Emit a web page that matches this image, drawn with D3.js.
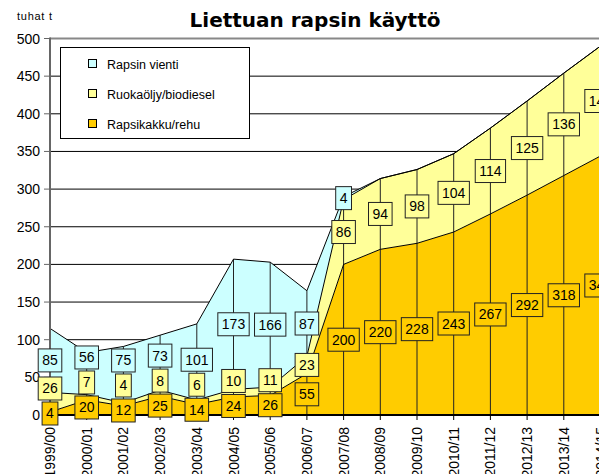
<!DOCTYPE html>
<html>
<head>
<meta charset="utf-8">
<script src="https://cdn.jsdelivr.net/npm/d3@7"></script>
<style>
  body { margin: 0; background: #fff; }
  svg { display: block; font-family: "Liberation Sans", Arial, sans-serif; }
</style>
</head>
<body>
<div id="chart"></div>
<script>
// seasons on the x axis
const seasons = ["1999/00", "2000/01", "2001/02", "2002/03", "2003/04", "2004/05",
    "2005/06", "2006/07", "2007/08", "2008/09", "2009/10", "2010/11",
    "2011/12", "2012/13", "2013/14", "2014/15"];

// thousand tonnes
const rehu   = [4, 20, 12, 25, 14, 24, 26, 55, 200, 220, 228, 243, 267, 292, 318, 344];
const oljy   = [26, 7, 4, 8, 6, 10, 11, 23, 86, 94, 98, 104, 114, 125, 136, 146];
const vienti = [85, 56, 75, 73, 101, 173, 166, 87, 4, 0, 0, 0, 0, 0, 0, 0];

const yTicks = [0, 50, 100, 150, 200, 250, 300, 350, 400, 450, 500];

const seriesNames = {
    vienti: "Rapsin vienti",
    oljy: "Ruokaöljy/biodiesel",
    rehu: "Rapsikakku/rehu"
};
const colors = { rehu: "#ffcc00", oljy: "#ffff99", vienti: "#ccffff" };

const W = 599, H = 474;
const plot = { left: 50, right: 600.5, top: 38.5, bottom: 415 };

let rows = seasons.map((s, i) => ({ season: s, rehu: rehu[i], oljy: oljy[i], vienti: vienti[i] }));
let keys = ["rehu", "oljy", "vienti"];
let stacked = d3.stack().keys(keys)(rows);

let x = d3.scalePoint().domain(seasons).range([plot.left, plot.right]);
let y = d3.scaleLinear().domain([0, 500]).range([plot.bottom, plot.top]);

let svg = d3.select("#chart").append("svg")
    .attr("width", W).attr("height", H);

// title and unit
svg.append("text")
    .attr("x", 315).attr("y", 27)
    .attr("text-anchor", "middle")
    .attr("font-family", "'DejaVu Sans', sans-serif")
    .attr("font-weight", "bold")
    .attr("font-size", 20)
    .text("Liettuan rapsin käyttö");

svg.append("text")
    .attr("x", 17).attr("y", 20)
    .attr("font-size", 11)
    .attr("textLength", 35)
    .text("tuhat t");

// gridlines
svg.append("g").selectAll("line")
    .data(yTicks.filter(d => d > 0 && d < 500))
    .enter().append("line")
    .attr("x1", plot.left).attr("x2", plot.right)
    .attr("y1", d => y(d)).attr("y2", d => y(d))
    .attr("stroke", "#000").attr("stroke-width", 1);

svg.append("line")
    .attr("x1", plot.left).attr("x2", plot.right)
    .attr("y1", y(500)).attr("y2", y(500))
    .attr("stroke", "#888").attr("stroke-width", 2);

// legend
let legend = svg.append("g");
legend.append("rect")
    .attr("x", 60.5).attr("y", 47.5).attr("width", 189).attr("height", 91)
    .attr("fill", "#fff").attr("stroke", "#000");

["vienti", "oljy", "rehu"].forEach((k, i) => {
    let ly = 64 + i * 30;
    legend.append("rect")
        .attr("x", 88.5).attr("y", ly - 4.5).attr("width", 8).attr("height", 8)
        .attr("fill", colors[k]).attr("stroke", "#000");
    legend.append("text")
        .attr("x", 107).attr("y", ly + 4.5)
        .attr("font-size", 12.5)
        .text(seriesNames[k]);
});

// areas
let area = d3.area()
    .x(d => x(d.data.season))
    .y0(d => y(d[0]))
    .y1(d => y(d[1]));

let line = d3.line()
    .x(d => x(d.data.season))
    .y(d => y(d[1]));

svg.append("g").selectAll("path")
    .data(stacked)
    .enter().append("path")
    .attr("d", area)
    .attr("fill", d => colors[d.key]);

// drop lines
svg.append("g").selectAll("line")
    .data(rows)
    .enter().append("line")
    .attr("x1", d => x(d.season)).attr("x2", d => x(d.season))
    .attr("y1", d => y(d.rehu + d.oljy + d.vienti)).attr("y2", plot.bottom)
    .attr("stroke", "#222").attr("stroke-width", 1);

svg.append("g").selectAll("path")
    .data(stacked)
    .enter().append("path")
    .attr("d", line)
    .attr("fill", "none")
    .attr("stroke", "#000").attr("stroke-width", 1);

// axes
svg.append("line")
    .attr("x1", plot.left).attr("x2", plot.left)
    .attr("y1", plot.top - 1).attr("y2", plot.bottom + 1)
    .attr("stroke", "#666").attr("stroke-width", 2);

let yAxis = svg.append("g");
yAxis.selectAll("line")
    .data(yTicks)
    .enter().append("line")
    .attr("x1", plot.left - 6).attr("x2", plot.left)
    .attr("y1", d => y(d)).attr("y2", d => y(d))
    .attr("stroke", "#666").attr("stroke-width", 1);
yAxis.selectAll("text")
    .data(yTicks)
    .enter().append("text")
    .attr("x", plot.left - 10).attr("y", d => y(d) + 5)
    .attr("text-anchor", "end")
    .attr("font-size", 14)
    .text(d => d);

svg.append("line")
    .attr("x1", plot.left - 1).attr("x2", plot.right)
    .attr("y1", plot.bottom).attr("y2", plot.bottom)
    .attr("stroke", "#000").attr("stroke-width", 2);

let xAxis = svg.append("g");
xAxis.selectAll("line")
    .data(seasons)
    .enter().append("line")
    .attr("x1", d => x(d)).attr("x2", d => x(d))
    .attr("y1", plot.bottom).attr("y2", plot.bottom + 5)
    .attr("stroke", "#000");
xAxis.selectAll("text")
    .data(seasons)
    .enter().append("text")
    .attr("transform", d => "translate(" + (x(d) + 5) + "," + 427 + ") rotate(-90)")
    .attr("text-anchor", "end")
    .attr("font-size", 14)
    .text(d => d);

// data labels: middle of each band, pushed up when they would collide
let labels = [];
rows.forEach((r, i) => {
    let prev = null;
    stacked.forEach(s => {
        let d = s[i];
        if (d[1] - d[0] <= 0) return;
        let cy = y((d[0] + d[1]) / 2);
        if (prev !== null && cy > prev - 25) cy = prev - 25;
        prev = cy;
        labels.push({ key: s.key, season: r.season, value: d[1] - d[0], cy: cy });
    });
});

let lab = svg.append("g").selectAll("g")
    .data(labels)
    .enter().append("g")
    .attr("transform", d => "translate(" + x(d.season) + "," + d.cy + ")");

lab.append("text")
    .attr("text-anchor", "middle")
    .attr("y", 5)
    .attr("font-size", 14)
    .text(d => d.value);

lab.each(function (d) {
    let g = d3.select(this);
    let bw = g.select("text").node().getComputedTextLength() + 8;
    g.insert("rect", "text")
        .attr("x", -bw / 2).attr("y", -11.5)
        .attr("width", bw).attr("height", 23)
        .attr("fill", colors[d.key])
        .attr("stroke", "#222").attr("stroke-width", 1);
});
</script>
</body>
</html>
